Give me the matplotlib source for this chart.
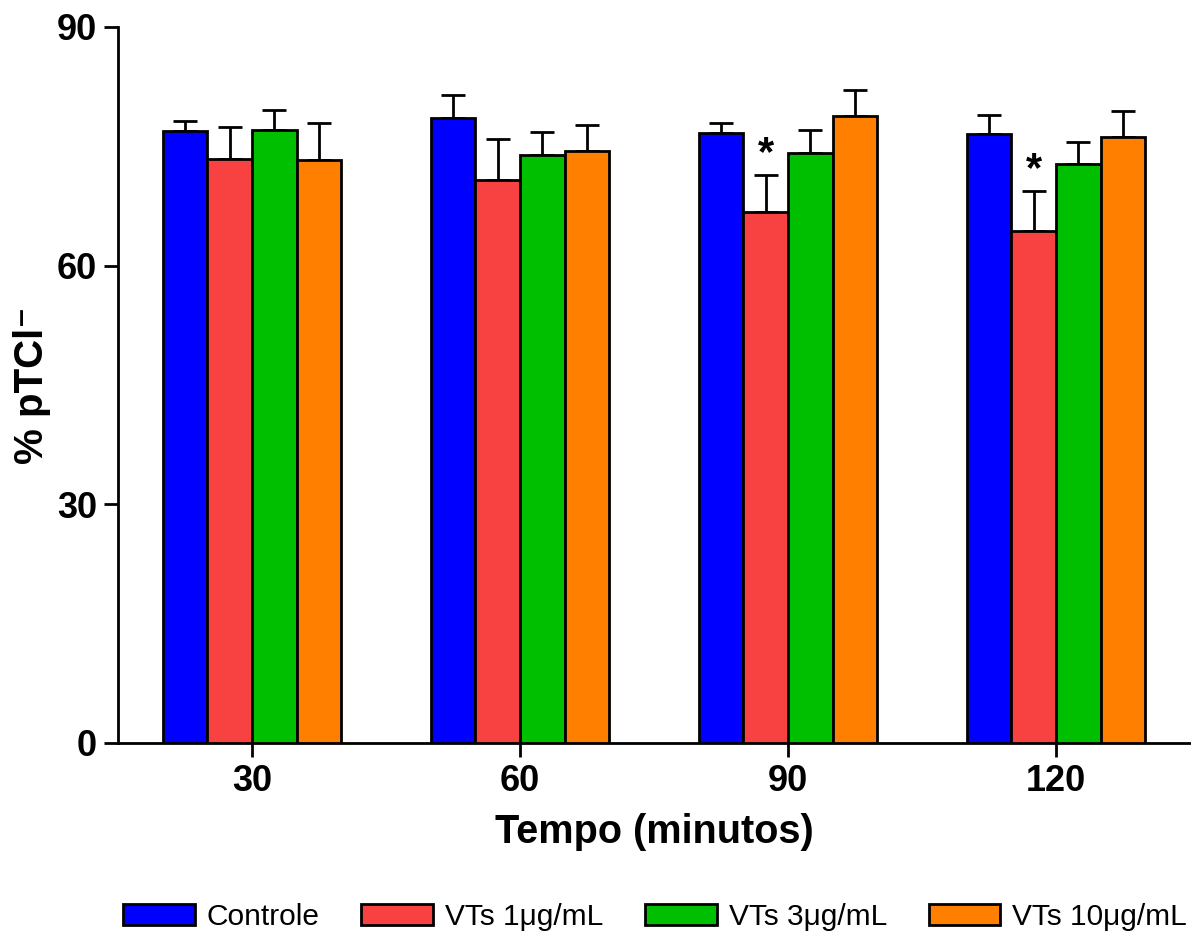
import numpy as np
import matplotlib
matplotlib.use('Agg')
import matplotlib.pyplot as plt

plt.rcParams['font.family'] = ['Liberation Sans', 'DejaVu Sans']

tempos = ['30', '60', '90', '120']
grupos = ['Controle', 'VTs 1\u03bcg/mL', 'VTs 3\u03bcg/mL', 'VTs 10\u03bcg/mL']
cores = ['#0000FF', '#F84242', '#00BF00', '#FF8000']

# medias e erro padrao
controle = [76.9, 78.6, 76.7, 76.5]
controle_sem = [1.25, 2.9, 1.2, 2.45]
vts1 = [73.4, 70.8, 66.7, 64.4]
vts1_sem = [4.0, 5.1, 4.65, 4.95]
vts3 = [77.05, 73.9, 74.2, 72.8]
vts3_sem = [2.55, 2.9, 2.85, 2.7]
vts10 = [73.3, 74.4, 78.85, 76.2]
vts10_sem = [4.65, 3.3, 3.2, 3.2]

medias = [controle, vts1, vts3, vts10]
erros = [controle_sem, vts1_sem, vts3_sem, vts10_sem]
signif = [(1, 2), (1, 3)]  # (grupo, tempo) com *

fig = plt.figure(figsize=(11.91, 9.33), dpi=100)
ax = fig.add_axes([118/1191, 190/933, 1072/1191, 716/933])

x = np.arange(len(tempos))
w = 1/6
lw = 2.0
for i in range(4):
    pos = x + (i - 1.5) * w
    ax.bar(pos, medias[i], width=w, color=cores[i], edgecolor='black',
           linewidth=lw, label=grupos[i], zorder=3)
    ax.errorbar(pos, medias[i], yerr=[np.zeros(4), erros[i]], fmt='none',
                ecolor='black', elinewidth=lw, capsize=8.5, capthick=lw, zorder=2)

for g, t in signif:
    xp = x[t] + (g - 1.5) * w
    yp = medias[g][t] + erros[g][t] + 0.2
    ax.text(xp, yp, '*', ha='center', va='bottom', fontsize=30, fontweight='bold')

ax.set_xlim(-0.5, 3.5)
ax.set_ylim(0, 90)
ax.set_yticks([0, 30, 60, 90])
ax.set_xticks(x)
ax.set_xticklabels(tempos)
for s in ['top', 'right']:
    ax.spines[s].set_visible(False)
for s in ['left', 'bottom']:
    ax.spines[s].set_linewidth(lw)
ax.tick_params(axis='both', length=10, width=lw, labelsize=26, direction='out')
ax.tick_params(axis='y', pad=5)
ax.tick_params(axis='x', pad=5)
for lab in ax.get_xticklabels() + ax.get_yticklabels():
    lab.set_fontweight('bold')

ax.set_xlabel('Tempo (minutos)', fontsize=28.5, fontweight='bold', labelpad=10)
ax.set_ylabel('% pTCl\u207b', fontsize=29, fontweight='bold', labelpad=4)

fig.legend(loc='center', bbox_to_anchor=(655/1191, 1 - 917/933), ncol=4,
           frameon=False, fontsize=21.5, handlelength=2.4, handleheight=0.68,
           handletextpad=0.4, columnspacing=1.4, borderpad=0)

fig.savefig('out.png', dpi=100)
